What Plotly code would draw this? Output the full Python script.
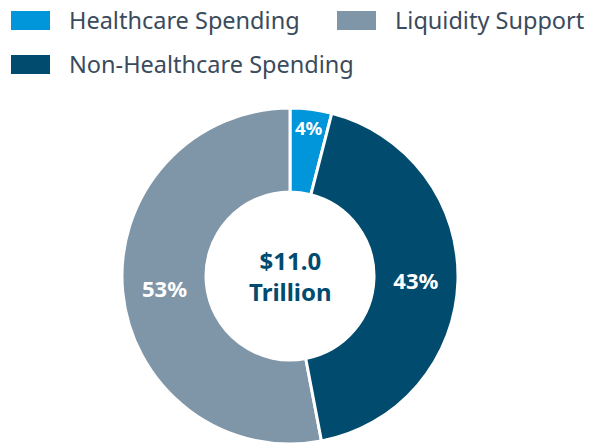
import plotly.graph_objects as go

# slice order matches the reference going counter-clockwise from 12 o'clock
labels = ['Healthcare Spending', 'Liquidity Support', 'Non-Healthcare Spending']
values = [4, 53, 43]
colors = ['#0096d9', '#7f95a8', '#004b6e']
center_text = '<b>$11.0<br>Trillion</b>'

FONT = 'Noto Sans'

# plot area size in px (page body adds an 8px offset, margins compensate)
W, H = 594, 443
ML, MR, MT, MB = 0, 30, 100, 7
PW, PH = W - ML - MR, H - MT - MB


def px_x(x):
    return (x - ML) / PW


def px_y(y):
    return (MT + PH - y) / PH


fig = go.Figure()

fig.add_trace(go.Pie(
    labels=labels,
    values=values,
    sort=False,
    direction='counterclockwise',
    rotation=0,
    hole=0.5,
    marker=dict(colors=colors, line=dict(color='white', width=3)),
    texttemplate='<b>%{percent:.0%}</b>',
    textposition='inside',
    insidetextorientation='horizontal',
    textfont=dict(family=FONT, size=22, color='white'),
    hoverinfo='label+percent',
    showlegend=False,
))

fig.add_annotation(
    text=center_text, x=0.5, y=0.5, xref='paper', yref='paper',
    showarrow=False, align='center',
    font=dict(family=FONT, size=24, color='#004b6e'),
)

# legend: wide rectangular swatches, two columns in the first row
legend_pos = [(3, 3), (329, 3), (3, 47)]  # top-left of each swatch, px
for name, col, (x0, y0) in zip(labels, colors, legend_pos):
    fig.add_shape(
        type='rect', xref='paper', yref='paper',
        x0=px_x(x0), x1=px_x(x0 + 39), y0=px_y(y0), y1=px_y(y0 + 19),
        fillcolor=col, line=dict(width=0),
    )
    fig.add_annotation(
        text=name, xref='paper', yref='paper',
        x=px_x(x0 + 56), y=px_y(y0 + 9.5),
        xanchor='left', yanchor='middle', showarrow=False,
        font=dict(family=FONT, size=23.5, color='#3a4b5c'),
    )

fig.update_layout(
    width=W, height=H,
    margin=dict(l=ML, r=MR, t=MT, b=MB, autoexpand=False),
    paper_bgcolor='white', plot_bgcolor='white',
    showlegend=False,
)

fig.write_html('out.html')
